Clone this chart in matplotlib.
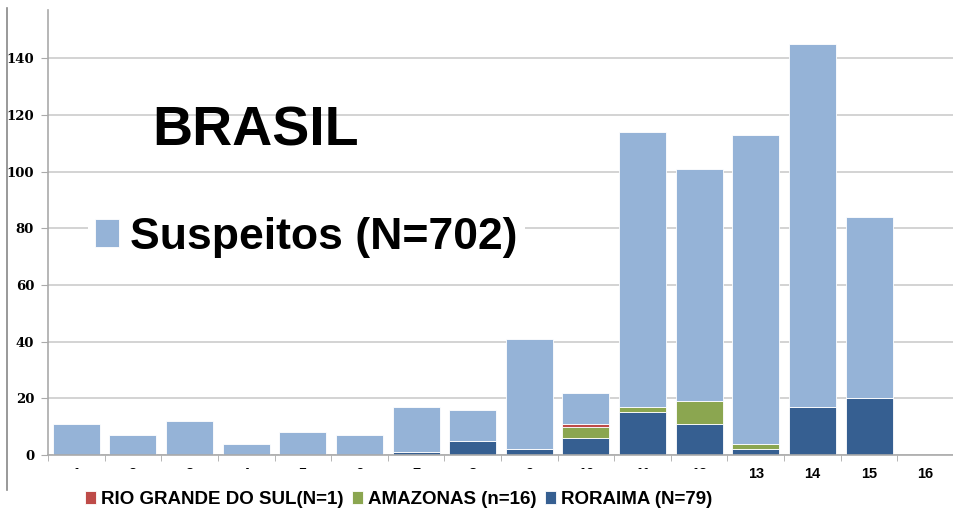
import matplotlib
matplotlib.use('Agg')
import matplotlib.pyplot as plt
from matplotlib.patches import Rectangle
from matplotlib.lines import Line2D
import numpy as np

semanas = list(range(1, 17))
total = [11, 7, 12, 4, 8, 7, 17, 16, 41, 22, 114, 101, 113, 145, 84, 0]
roraima = [0, 0, 0, 0, 0, 0, 1, 5, 2, 6, 15, 11, 2, 17, 20, 0]
amazonas = [0, 0, 0, 0, 0, 0, 0, 0, 0, 4, 2, 8, 2, 0, 0, 0]
rio_grande = [0, 0, 0, 0, 0, 0, 0, 0, 0, 1, 0, 0, 0, 0, 0, 0]
y_ticks = [0, 20, 40, 60, 80, 100, 120, 140]

lbl_susp = 'Suspeitos (N=702)'
lbl_rs = 'RIO GRANDE DO SUL(N=1)'
lbl_am = 'AMAZONAS (n=16)'
lbl_rr = 'RORAIMA (N=79)'

c_susp = '#95B3D7'
c_rr = '#365F91'
c_am = '#8BA650'
c_rs = '#BE4B48'

fig = plt.figure(figsize=(9.54, 5.08), dpi=100)
ax = fig.add_axes([48/954, 53/508, 906/954, 445/508])

x = np.array(semanas)
rr = np.array(roraima)
am = np.array(amazonas)
rs = np.array(rio_grande)
resto = np.array(total) - rr - am - rs
w = 0.83
b_rr = ax.bar(x, rr, w, color=c_rr, edgecolor='white', linewidth=0.6, zorder=2)
b_am = ax.bar(x, am, w, bottom=rr, color=c_am, edgecolor='white', linewidth=0.6, zorder=2)
b_rs = ax.bar(x, rs, w, bottom=rr+am, color=c_rs, edgecolor='white', linewidth=0.6, zorder=2)
b_su = ax.bar(x, resto, w, bottom=rr+am+rs, color=c_susp, edgecolor='white', linewidth=0.6, zorder=2)

ax.set_xlim(0.5, 0.5 + 906/56.9)
ax.set_ylim(0, 157)
ax.set_yticks(y_ticks)
ax.set_yticklabels([str(v) for v in y_ticks], fontfamily='DejaVu Serif', fontweight='bold', fontsize=9.5)
ax.set_xticks(x)
ax.set_xticklabels([str(s) for s in semanas], fontfamily='Liberation Sans', fontweight='bold', fontsize=10.5)
ax.set_xticks(np.arange(0.5, 16.6, 1), minor=True)
ax.tick_params(axis='x', which='major', length=0, pad=9)
ax.tick_params(axis='x', which='minor', length=4, color='#aaaaaa', direction='out')
ax.tick_params(axis='y', length=5, color='#aaaaaa', pad=5)
ax.grid(axis='y', color='#cccccc', linewidth=1.2, zorder=0)
ax.set_axisbelow(True)
for s in ['top', 'right']:
    ax.spines[s].set_visible(False)
for s in ['left', 'bottom']:
    ax.spines[s].set_color('#aaaaaa')
    ax.spines[s].set_linewidth(1.2)

ax.text(152/954, 1 - 146/508, 'BRASIL', transform=fig.transFigure, fontfamily='Liberation Sans',
        fontweight='bold', fontsize=40, ha='left', va='baseline', zorder=5)

leg1 = ax.legend([b_su], [lbl_susp], loc='upper left', bbox_to_anchor=(66/954, 1 - 188/508),
                 bbox_transform=fig.transFigure, prop={'family': 'Liberation Sans', 'weight': 'bold', 'size': 32},
                 handlelength=0.55, handleheight=0.6, handletextpad=0.25, borderpad=0.15,
                 frameon=True, facecolor='white', edgecolor='none', framealpha=1, fancybox=False)
ax.add_artist(leg1)

# tapa os rotulos das semanas 1-12 como no original
fig.patches.append(Rectangle((40/954, 0), 710/954, 39/508, transform=fig.transFigure,
                             facecolor='white', edgecolor='none', zorder=1))
fig.lines.append(Line2D([7/954, 7/954], [18/508, 500/508], transform=fig.transFigure,
                        color='#888888', linewidth=1.2))

fig.legend([b_rs, b_am, b_rr], [lbl_rs, lbl_am, lbl_rr], loc='lower left', ncol=3,
           bbox_to_anchor=(68/954, -17/508), bbox_transform=fig.transFigure,
           prop={'family': 'Liberation Sans', 'weight': 'bold', 'size': 13.5},
           handlelength=0.6, handleheight=0.75, handletextpad=0.25, columnspacing=0.45,
           frameon=False)

fig.savefig('out.png', dpi=100)
